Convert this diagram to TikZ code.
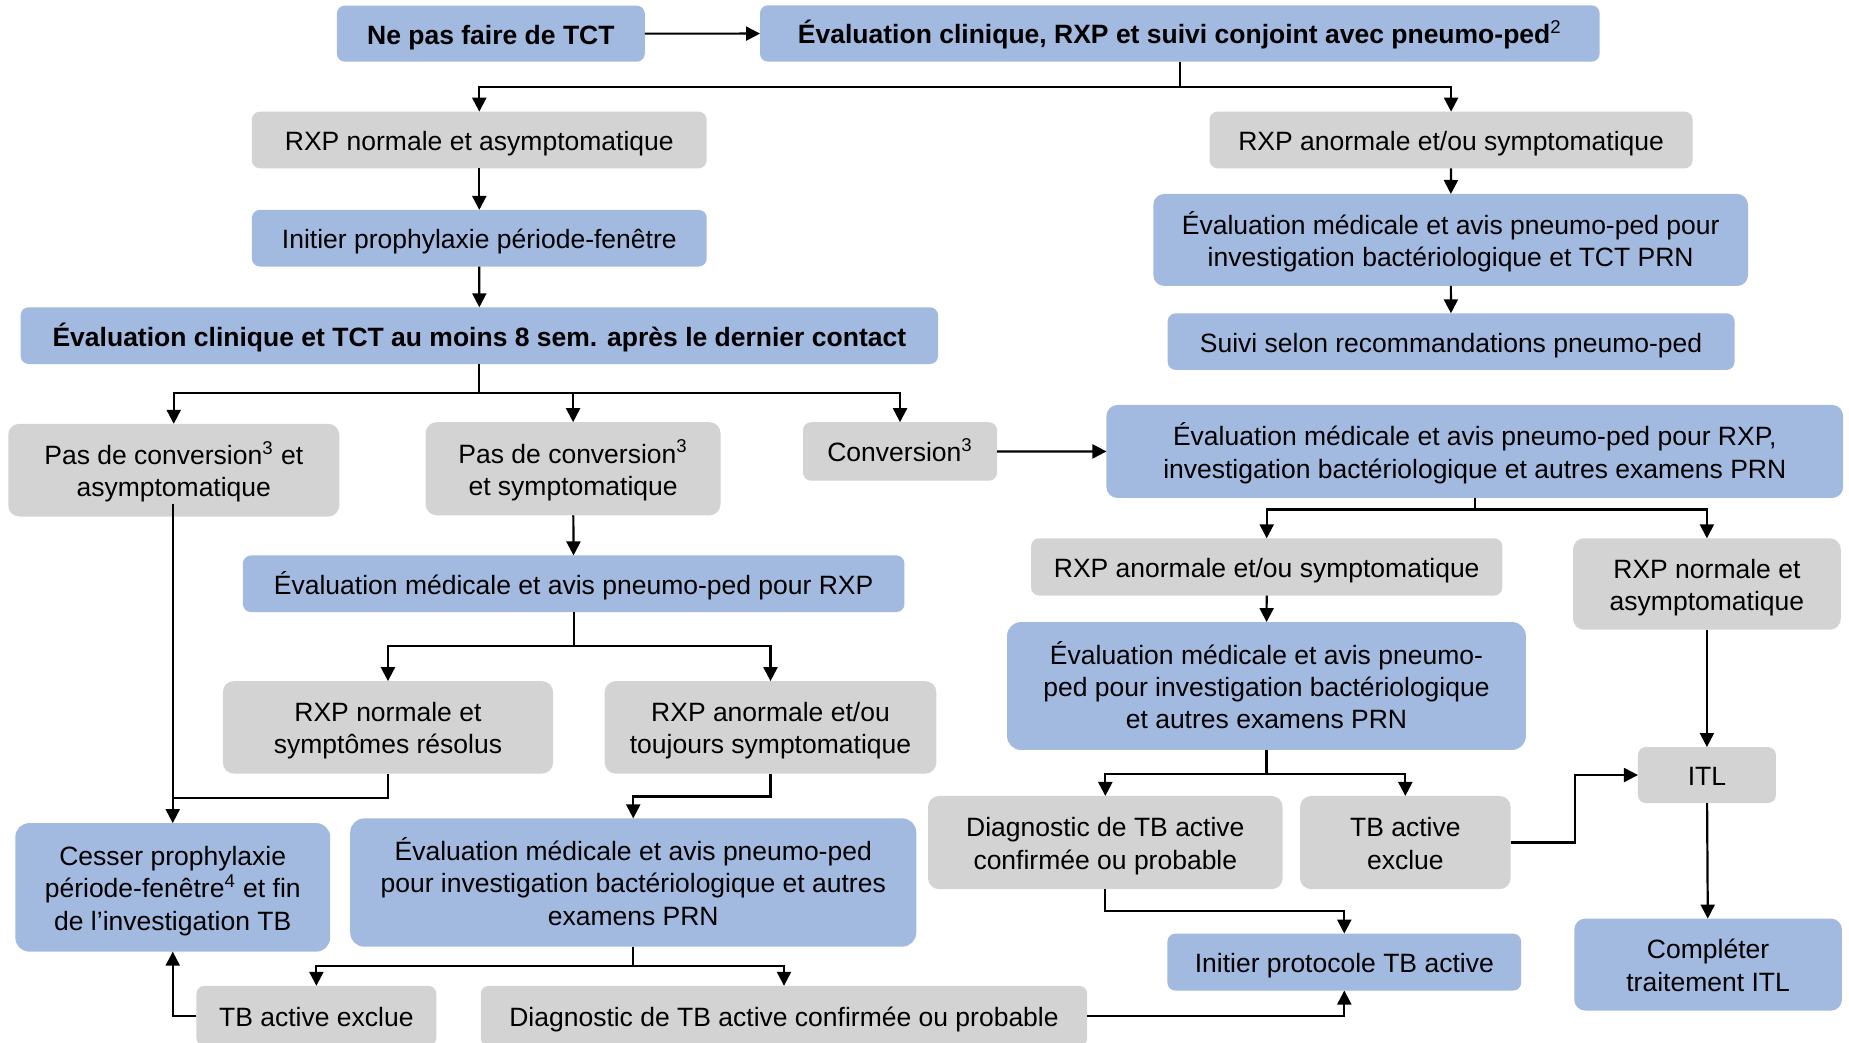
\documentclass[tikz,border=0pt]{standalone}
\usepackage{fontspec}
\setmainfont{Liberation Sans}
\usetikzlibrary{arrows.meta}
\definecolor{boxblue}{RGB}{162,185,224}
\definecolor{boxgray}{RGB}{211,211,211}
\newcommand{\diagfont}{\fontsize{13.25pt}{16.1pt}\selectfont}
\newcommand{\topstrut}{\rule[-0.212em]{0pt}{1.212em}}
\newcommand{\botstrut}{\rule[-0.212em]{0pt}{0.5em}}
\newcommand{\mkbox}[7]{\node[#1, minimum width={(#5-#3)*0.58965pt}, minimum height={(#6-#4)*0.58965pt}] (#2) at ({(#3+#5)/2},{(#4+#6)/2}) {\topstrut#7\botstrut};}
\tikzset{
  base/.style={inner sep=0pt, outer sep=0pt, align=center, font=\diagfont, text=black, rounded corners=4pt},
  bluebox/.style={base, fill=boxblue},
  graybox/.style={base, fill=boxgray},
  boldtxt/.style={font=\diagfont\bfseries},
  rtwo/.style={rounded corners=5.5pt},
  rthree/.style={rounded corners=7pt},
  arr/.style={-{Triangle[length=7pt,width=7pt]}, line width=1.1pt},
  ln/.style={line width=1.1pt},
}
\begin{document}
\begin{tikzpicture}[x=0.58965pt, y=-0.58965pt]
\fill[white] (0,0) rectangle (1568,884);
\useasboundingbox (0,0) rectangle (1568,884);
% top row
\mkbox{bluebox,boldtxt}{ne}{285.7}{4.8}{546.8}{52.3}{Ne pas faire de TCT}
\mkbox{bluebox,boldtxt}{ev0}{644.5}{4.5}{1356.5}{52.3}{Évaluation clinique, RXP et suivi conjoint avec pneumo-ped\textsuperscript{\mdseries 2}}
% left column top
\mkbox{graybox}{rxpn}{213.6}{94.7}{599.3}{142.7}{RXP normale et asymptomatique}
\mkbox{bluebox}{initp}{213.6}{178}{599.3}{226}{Initier prophylaxie période-fenêtre}
\mkbox{bluebox,boldtxt}{evc8}{17.5}{260.6}{795.5}{308.7}{Évaluation clinique et TCT au moins 8 sem. après le dernier contact}
% right column top
\mkbox{graybox}{rxpa}{1025.7}{94.7}{1435.4}{142.7}{RXP anormale et/ou symptomatique}
\mkbox{bluebox,rtwo}{evm6}{978}{164.5}{1482.4}{242.5}{Évaluation médicale et avis pneumo-ped pour\\investigation bactériologique et TCT PRN}
\mkbox{bluebox}{suivi}{990.2}{265.7}{1470.9}{313.7}{Suivi selon recommandations pneumo-ped}
% second level
\mkbox{graybox,rtwo}{pas1}{7}{359.4}{287.7}{438}{Pas de conversion\textsuperscript{3} et\\asymptomatique}
\mkbox{graybox,rtwo}{pas2}{361}{358}{611}{437}{Pas de conversion\textsuperscript{3}\\et symptomatique}
\mkbox{graybox}{conv}{681}{358}{845.5}{407.6}{Conversion\textsuperscript{3}}
\mkbox{bluebox,rtwo}{evm12}{938.3}{343.4}{1563}{422.3}{Évaluation médicale et avis pneumo-ped pour RXP,\\investigation bactériologique et autres examens PRN}
% middle left
\mkbox{bluebox}{evm13}{206}{471}{767}{519}{Évaluation médicale et avis pneumo-ped pour RXP}
\mkbox{graybox,rtwo}{rn2}{189}{577.6}{469}{656}{RXP normale et\\symptômes résolus}
\mkbox{graybox,rtwo}{ra2}{512.8}{577.6}{794}{656}{RXP anormale et/ou\\toujours symptomatique}
\mkbox{bluebox,rthree}{cesser}{13}{698}{280}{807}{Cesser prophylaxie\\période-fenêtre\textsuperscript{4} et fin\\de l’investigation TB}
\mkbox{bluebox,rthree}{evm20}{297}{694}{777}{802.8}{Évaluation médicale et avis pneumo-ped\\pour investigation bactériologique et autres\\examens PRN}
\mkbox{graybox}{tbx1}{166.6}{836}{370}{887}{TB active exclue}
\mkbox{graybox}{diag1}{407.7}{836}{922}{887}{Diagnostic de TB active confirmée ou probable}
% middle right
\mkbox{graybox}{ra3}{874.4}{456.5}{1274}{505}{RXP anormale et/ou symptomatique}
\mkbox{graybox,rtwo}{rn3}{1334}{456.5}{1561}{534}{RXP normale et\\asymptomatique}
\mkbox{bluebox,rthree}{evm16}{854}{527.5}{1294}{636}{Évaluation médicale et avis pneumo-\\ped pour investigation bactériologique\\et autres examens PRN}
\mkbox{graybox}{itl}{1389}{633.5}{1506}{681}{ITL}
\mkbox{graybox,rtwo}{diag2}{787}{675}{1087.7}{754}{Diagnostic de TB active\\confirmée ou probable}
\mkbox{graybox,rtwo}{tbx2}{1102.5}{675}{1281}{754}{TB active\\exclue}
\mkbox{bluebox}{initTB}{990}{791.7}{1290}{840}{Initier protocole TB active}
\mkbox{bluebox,rtwo}{comp}{1335}{779}{1562}{857}{Compléter\\traitement ITL}
% connectors
\draw[arr] (ne) -- (ev0);
\draw[arr] (ev0.south) -- ++(0,21.3) -| (rxpn.north);
\draw[arr] (ev0.south) -- ++(0,21.3) -| (rxpa.north);
\draw[arr] (rxpn) -- (initp);
\draw[arr] (initp) -- (evc8);
\draw[arr] (rxpa) -- (evm6);
\draw[arr] (evm6) -- (suivi);
\draw[arr] (evc8.south) -- ++(0,24.8) -| (pas1.north);
\draw[arr] (evc8.south) -- ++(0,24.8) -| (pas2.north);
\draw[arr] (evc8.south) -- ++(0,24.8) -| (conv.north);
\coordinate (p1s) at (146.5,427);
\coordinate (j17) at (146.5,676.7);
\draw[arr] (p1s) -- (cesser.north);
\draw[ln] (rn2.south) |- (j17);
\draw[arr] (pas2) -- (evm13);
\draw[arr] (evm13.south) -- ++(0,29) -| (rn2.north);
\draw[arr] (evm13.south) -- ++(0,29) -| (ra2.north);
\draw[arr] (ra2.south) -- ++(0,19.5) -| (evm20.north);
\draw[arr] (evm20.south) -- ++(0,16.7) -| (tbx1.north);
\draw[arr] (evm20.south) -- ++(0,16.7) -| (diag1.north);
\draw[arr] (tbx1.west) -| (cesser.south);
\draw[arr] (diag1.east) -| (initTB.south);
\draw[arr] (conv) -- (evm12);
\draw[arr] (evm12.south) -- ++(0,9.7) -| (ra3.north);
\draw[arr] (evm12.south) -- ++(0,9.7) -| (rn3.north);
\draw[arr] (ra3) -- (evm16);
\draw[arr] (rn3) -- (itl);
\draw[arr] (evm16.south) -- ++(0,20.5) -| (diag2.north);
\draw[arr] (evm16.south) -- ++(0,20.5) -| (tbx2.north);
\draw[arr] (diag2.south) -- ++(0,18.5) -| (initTB.north);
\draw[arr] (tbx2.east) -- ++(54.5,0) |- (itl.west);
\draw[arr] (itl) -- (comp);
\end{tikzpicture}
\end{document}
